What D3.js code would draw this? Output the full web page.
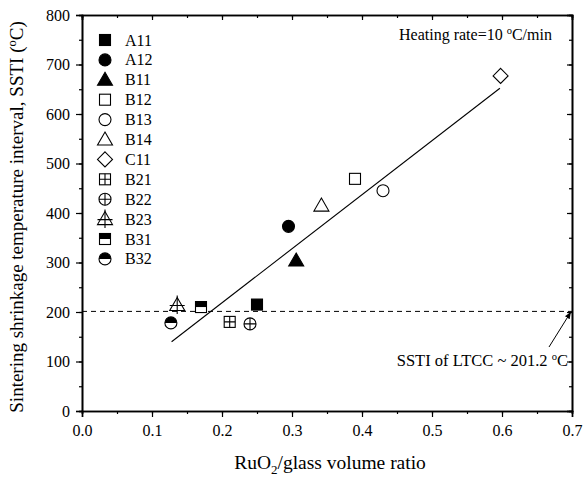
<!DOCTYPE html>
<html>
<head>
<meta charset="utf-8">
<script src="https://cdn.jsdelivr.net/npm/d3@7"></script>
<style>
  body { margin: 0; background: #fff; }
  text { font-family: "Liberation Serif", "Times New Roman", serif; fill: #000; }
</style>
</head>
<body>
<script>
// sample names and measured values
var samples = ["A11", "A12", "B11", "B12", "B13", "B14", "C11", "B21", "B22", "B23", "B31", "B32"];
var ratio = [0.250, 0.295, 0.306, 0.390, 0.430, 0.342, 0.598, 0.211, 0.240, 0.136, 0.170, 0.127];
var sstiValues = [215, 373, 304, 469, 445, 415, 677, 180, 176, 214, 210, 178];

// fitted line end points
var fitX = [0.128, 0.597];
var fitY = [140, 652];

var ltccSsti = 201.2;

var xTicks = [0, 0.1, 0.2, 0.3, 0.4, 0.5, 0.6, 0.7];
var yTicks = [0, 100, 200, 300, 400, 500, 600, 700, 800];

// marker style for each sample
var shapes = {
    A11: {base: "square", fill: "full"},
    A12: {base: "circle", fill: "full"},
    B11: {base: "triangle", fill: "full"},
    B12: {base: "square", fill: "none"},
    B13: {base: "circle", fill: "none"},
    B14: {base: "triangle", fill: "none"},
    C11: {base: "diamond", fill: "none"},
    B21: {base: "square", fill: "none", cross: true},
    B22: {base: "circle", fill: "none", cross: true},
    B23: {base: "triangle", fill: "none", cross: true},
    B31: {base: "square", fill: "half"},
    B32: {base: "circle", fill: "half"}
};

var w = 583, h = 478;
var svg = d3.select("body").append("svg")
    .attr("width", w)
    .attr("height", h);

var x = d3.scaleLinear().domain([0, 0.7]).range([82, 572]);
var y = d3.scaleLinear().domain([0, 800]).range([411, 15]);

//draw one marker into a group centred on 0,0
function drawMarker(g, s) {
    var fillCol = s.fill == "full" ? "#000" : "#fff";
    var sw = 1.1;
    if (s.base == "square") {
        var a = 5.5;
        g.append("rect").attr("x", -a).attr("y", -a).attr("width", 2 * a).attr("height", 2 * a)
            .attr("fill", fillCol).attr("stroke", "#000").attr("stroke-width", sw);
        if (s.fill == "half") {
            g.append("rect").attr("x", -a).attr("y", -a).attr("width", 2 * a).attr("height", a)
                .attr("fill", "#000");
        }
        if (s.cross) {
            g.append("path").attr("d", "M0," + (-a) + "V" + a + "M" + (-a) + ",0H" + a)
                .attr("stroke", "#000").attr("stroke-width", sw);
        }
    } else if (s.base == "circle") {
        var r = 6;
        g.append("circle").attr("r", r)
            .attr("fill", fillCol).attr("stroke", "#000").attr("stroke-width", sw);
        if (s.fill == "half") {
            g.append("path").attr("d", "M" + (-r) + ",0A" + r + "," + r + " 0 0 1 " + r + ",0Z")
                .attr("fill", "#000");
        }
        if (s.cross) {
            g.append("path").attr("d", "M0," + (-r) + "V" + r + "M" + (-r) + ",0H" + r)
                .attr("stroke", "#000").attr("stroke-width", sw);
        }
    } else if (s.base == "triangle") {
        g.append("path").attr("d", "M0,-7.5L7.5,5.5L-7.5,5.5Z")
            .attr("fill", fillCol).attr("stroke", "#000").attr("stroke-width", sw)
            .attr("stroke-linejoin", "miter");
        if (s.cross) {
            g.append("path").attr("d", "M0,-9.5V9M-7.5,0.5H7.5")
                .attr("stroke", "#000").attr("stroke-width", sw);
        }
    } else if (s.base == "diamond") {
        g.append("path").attr("d", "M0,-7.5L7.5,0L0,7.5L-7.5,0Z")
            .attr("fill", fillCol).attr("stroke", "#000").attr("stroke-width", sw);
    }
}

// dashed LTCC line
svg.append("line")
    .attr("x1", x(0)).attr("x2", x(0.7))
    .attr("y1", y(ltccSsti)).attr("y2", y(ltccSsti))
    .attr("stroke", "#000").attr("stroke-width", 1)
    .attr("stroke-dasharray", "5,4");

// fit line
svg.append("line")
    .attr("x1", x(fitX[0])).attr("y1", y(fitY[0]))
    .attr("x2", x(fitX[1])).attr("y2", y(fitY[1]))
    .attr("stroke", "#000").attr("stroke-width", 1.1);

// data markers
samples.forEach(function(name, i) {
    var g = svg.append("g")
        .attr("class", "marker")
        .attr("transform", "translate(" + x(ratio[i]) + "," + y(sstiValues[i]) + ")");
    drawMarker(g, shapes[name]);
});

// legend
samples.forEach(function(name, i) {
    var ly = 40 + i * 19.9;
    var g = svg.append("g").attr("transform", "translate(105," + ly + ")");
    drawMarker(g, shapes[name]);
    svg.append("text")
        .attr("x", 125).attr("y", ly + 5.5)
        .style("font-size", "16px")
        .text(name);
});

// axes
var yMinor = d3.range(0, 801, 50);
var xMinor = d3.range(0, 0.701, 0.05);

svg.append("g").attr("transform", "translate(82,0)")
    .call(d3.axisLeft(y).tickValues(yMinor).tickSize(3).tickFormat(""));
svg.append("g").attr("class", "yaxis").attr("transform", "translate(82,0)")
    .call(d3.axisLeft(y).tickValues(yTicks).tickSize(6).tickPadding(6).tickFormat(d3.format("d")));
svg.append("g").attr("transform", "translate(572,0)")
    .call(d3.axisRight(y).tickValues(yMinor).tickSize(-3).tickFormat(""));
svg.append("g").attr("transform", "translate(572,0)")
    .call(d3.axisRight(y).tickValues(yTicks).tickSize(-5).tickFormat(""));

svg.append("g").attr("transform", "translate(0,411)")
    .call(d3.axisBottom(x).tickValues(xMinor).tickSize(3).tickFormat(""));
svg.append("g").attr("class", "xaxis").attr("transform", "translate(0,411)")
    .call(d3.axisBottom(x).tickValues(xTicks).tickSize(6).tickPadding(8).tickFormat(d3.format(".1f")));
svg.append("g").attr("transform", "translate(0,15)")
    .call(d3.axisTop(x).tickValues(xMinor).tickSize(-3).tickFormat(""));
svg.append("g").attr("transform", "translate(0,15)")
    .call(d3.axisTop(x).tickValues(xTicks).tickSize(-5).tickFormat(""));

svg.selectAll(".domain").attr("stroke-width", 1.6);
svg.selectAll(".tick line").attr("stroke-width", 1.2);
svg.selectAll(".yaxis text, .xaxis text")
    .style("font-family", "'Liberation Serif', 'Times New Roman', serif")
    .style("font-size", "16px");

// axis titles
var xt = svg.append("text")
    .attr("x", 330).attr("y", 469)
    .attr("text-anchor", "middle")
    .style("font-size", "19.5px");
xt.append("tspan").text("RuO");
xt.append("tspan").attr("dy", 5).style("font-size", "13px").text("2");
xt.append("tspan").attr("dy", -5).text("/glass volume ratio");

var yt = svg.append("text")
    .attr("transform", "translate(23,217) rotate(-90)")
    .attr("text-anchor", "middle")
    .style("font-size", "19px");
yt.append("tspan").text("Sintering shrinkage temperature interval, SSTI (");
yt.append("tspan").attr("dy", -7).style("font-size", "12.5px").text("o");
yt.append("tspan").attr("dy", 7).text("C)");

// heating rate note
var ht = svg.append("text")
    .attr("x", 399).attr("y", 40)
    .style("font-size", "16px");
ht.append("tspan").text("Heating rate=10 ");
ht.append("tspan").attr("dy", -6).style("font-size", "10.5px").text("o");
ht.append("tspan").attr("dy", 6).text("C/min");

// LTCC annotation with arrow
svg.append("defs").append("marker")
    .attr("id", "arrowhead")
    .attr("viewBox", "0 0 10 10")
    .attr("refX", 9).attr("refY", 5)
    .attr("markerWidth", 7).attr("markerHeight", 7)
    .attr("orient", "auto")
    .append("path").attr("d", "M0,1L10,5L0,9Z").attr("fill", "#000");

svg.append("line")
    .attr("x1", 549).attr("y1", 347)
    .attr("x2", x(0.698)).attr("y2", y(ltccSsti) + 1)
    .attr("stroke", "#000").attr("stroke-width", 1)
    .attr("marker-end", "url(#arrowhead)");

var lt = svg.append("text")
    .attr("x", 568).attr("y", 366)
    .attr("text-anchor", "end")
    .style("font-size", "16.5px");
lt.append("tspan").text("SSTI of LTCC ~ 201.2 ");
lt.append("tspan").attr("dy", -6).style("font-size", "10.5px").text("o");
lt.append("tspan").attr("dy", 6).text("C");
</script>
</body>
</html>
